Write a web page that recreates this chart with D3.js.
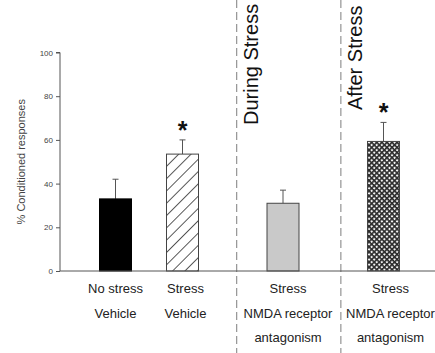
<!DOCTYPE html>
<html>
<head>
<meta charset="utf-8">
<script src="https://cdn.jsdelivr.net/npm/d3@7"></script>
<style>
  html, body { margin: 0; padding: 0; background: #fff; }
  svg { display: block; font-family: "Liberation Sans", Arial, sans-serif; }
</style>
</head>
<body>
<svg id="chart" width="435" height="353"></svg>
<script>
// Groups along the x axis (slot position in bar widths of spacing)
const groups = ["noStressVehicle", "stressVehicle", "stressDuring", "stressAfter"];
const slots = [0, 1, 2.5, 4];
const means = [33, 53.5, 31, 59.3];
const errors = [9, 6.5, 6, 8.7];
const significant = [false, true, false, true];
const fills = ["solid", "hatch", "grey", "check"];
const labelLines = [
  ["No stress", "Vehicle"],
  ["Stress", "Vehicle"],
  ["Stress", "NMDA receptor", "antagonism"],
  ["Stress", "NMDA receptor", "antagonism"]
];
const yTicks = [0, 20, 40, 60, 80, 100];
const phaseLabels = ["During Stress", "After Stress"];
const separators = [2.055, 3.61];

const svg = d3.select("#chart");
const x0 = 99, slotWidth = 67, barWidth = 33;
const x = d3.scaleLinear().domain([0, 1]).range([x0, x0 + slotWidth]);
const y = d3.scaleLinear().domain([0, 100]).range([271, 52.5]);
const axisLeft = 60;

// Patterns
const defs = svg.append("defs");
const hatch = defs.append("pattern")
  .attr("id", "hatch").attr("patternUnits", "userSpaceOnUse")
  .attr("width", 8.7).attr("height", 8.7)
  .attr("patternTransform", "rotate(45)");
hatch.append("rect").attr("width", 8.7).attr("height", 8.7).attr("fill", "#fff");
hatch.append("line").attr("x1", 0).attr("y1", 0).attr("x2", 0).attr("y2", 8.7)
  .attr("stroke", "#222").attr("stroke-width", 1.5);

const check = defs.append("pattern")
  .attr("id", "check").attr("patternUnits", "userSpaceOnUse")
  .attr("width", 3.6).attr("height", 3.6)
  .attr("patternTransform", "rotate(45)");
check.append("rect").attr("width", 3.6).attr("height", 3.6).attr("fill", "#2a2a2a");
check.append("rect").attr("x", 0.7).attr("y", 0.7).attr("width", 2.0).attr("height", 2.0).attr("fill", "#f4f4f4");

const fillFor = {
  solid: "#000",
  hatch: "url(#hatch)",
  grey: "#c9c9c9",
  check: "url(#check)"
};

// Phase separators
svg.selectAll("line.sep").data(separators).join("line")
  .attr("class", "sep")
  .attr("x1", d => x(d)).attr("x2", d => x(d))
  .attr("y1", 0).attr("y2", 353)
  .attr("stroke", "#8a8a8a").attr("stroke-width", 1.1)
  .attr("stroke-dasharray", "8,4");

// Y axis
const yAxis = d3.axisLeft(y).tickValues(yTicks).tickSize(4).tickPadding(3);
const gy = svg.append("g").attr("transform", `translate(${axisLeft},0)`).call(yAxis);
gy.select(".domain").attr("stroke", "#555").attr("d", `M-4,${y(100)}H0V${y(0)}`);
gy.selectAll(".tick line").attr("stroke", "#555");
gy.selectAll(".tick text").attr("fill", "#444").style("font-size", "8px").style("font-family", "Liberation Sans, Arial, sans-serif");

svg.append("text")
  .attr("transform", `translate(25,${(y(0) + y(100)) / 2}) rotate(-90)`)
  .attr("text-anchor", "middle")
  .attr("fill", "#444")
  .style("font-size", "11px")
  .text("% Conditioned responses");

// Bars
const data = groups.map((g, i) => ({
  g, slot: slots[i], mean: means[i], err: errors[i], sig: significant[i], fill: fills[i], lines: labelLines[i]
}));

// Error bars (upper only)
const eb = svg.selectAll("g.err").data(data).join("g").attr("class", "err");
eb.append("line")
  .attr("x1", d => x(d.slot) + barWidth / 2).attr("x2", d => x(d.slot) + barWidth / 2)
  .attr("y1", d => y(d.mean)).attr("y2", d => y(d.mean + d.err))
  .attr("stroke", "#555").attr("stroke-width", 1);
eb.append("line")
  .attr("x1", d => x(d.slot) + barWidth / 2 - 3).attr("x2", d => x(d.slot) + barWidth / 2 + 3)
  .attr("y1", d => y(d.mean + d.err)).attr("y2", d => y(d.mean + d.err))
  .attr("stroke", "#555").attr("stroke-width", 1);

svg.selectAll("rect.bar").data(data).join("rect")
  .attr("class", "bar")
  .attr("x", d => x(d.slot) + 0.5)
  .attr("y", d => y(d.mean))
  .attr("width", barWidth - 1)
  .attr("height", d => y(0) - y(d.mean))
  .attr("fill", d => fillFor[d.fill])
  .attr("stroke", d => d.fill === "solid" ? "#000" : "#444")
  .attr("stroke-width", 1);

// Significance markers
svg.selectAll("text.star").data(data.filter(d => d.sig)).join("text")
  .attr("class", "star")
  .attr("x", d => x(d.slot) + barWidth / 2)
  .attr("y", d => y(d.mean + d.err) - 1)
  .attr("text-anchor", "middle")
  .attr("fill", "#111")
  .style("font-size", "25px")
  .style("font-weight", "bold")
  .text("*");

// X axis baseline
svg.append("line")
  .attr("x1", axisLeft).attr("x2", 435)
  .attr("y1", y(0)).attr("y2", y(0))
  .attr("stroke", "#555").attr("stroke-width", 1);

// Category labels
const labelShift = [0, 3, 5, 7];
const lineY = [293, 318, 342];
const lab = svg.selectAll("text.cat").data(data).join("text")
  .attr("class", "cat")
  .attr("text-anchor", "middle")
  .attr("fill", "#222")
  .style("font-size", "13px");
lab.each(function(d, i) {
  const t = d3.select(this);
  d.lines.forEach((s, k) => {
    t.append("tspan")
      .attr("x", x(d.slot) + barWidth / 2 + labelShift[i])
      .attr("y", lineY[k])
      .text(s);
  });
});

// Phase headings
svg.selectAll("text.phase").data(phaseLabels).join("text")
  .attr("class", "phase")
  .attr("transform", (d, i) => i === 0 ? "translate(257.5,125) rotate(-90)" : "translate(361.5,110) rotate(-90)")
  .attr("fill", "#111")
  .style("font-size", "20px")
  .text(d => d);
</script>
</body>
</html>
